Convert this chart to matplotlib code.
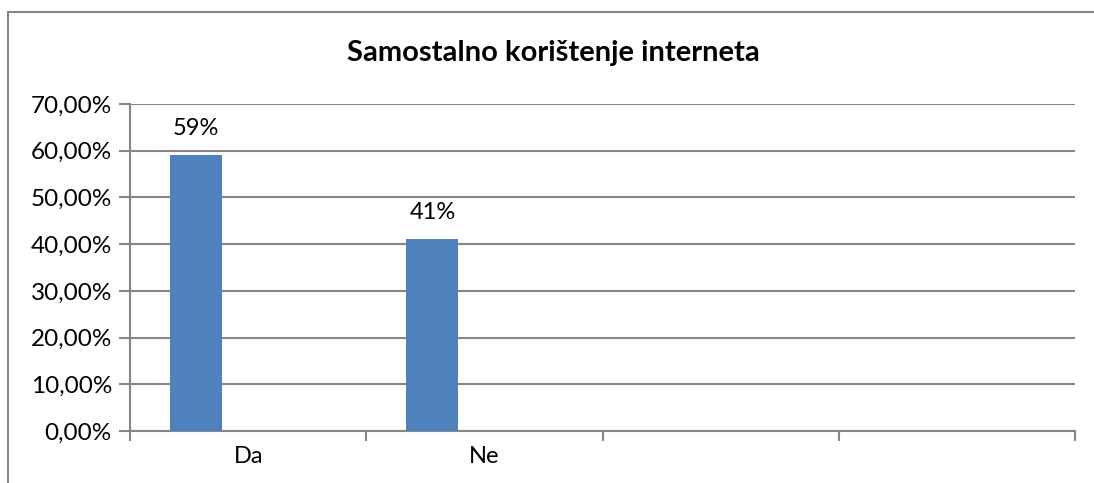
import matplotlib
matplotlib.use("Agg")
import matplotlib.pyplot as plt
import matplotlib.patches as patches
from matplotlib.ticker import FuncFormatter, FixedLocator

# data
categories = ["Da", "Ne", "", ""]
values = [0.59, 0.41]
value_labels = ["59%", "41%"]
title = "Samostalno korištenje interneta"

plt.rcParams['font.family'] = ['Lato', 'DejaVu Sans']

W, H = 1094, 483
fig = plt.figure(figsize=(W / 100, H / 100), dpi=100)
ax = fig.add_axes([130 / W, 1 - 431 / H, (1075 - 130) / W, (431 - 104) / H])

grey = "#868686"
blue = "#4F81BD"
bar_w = 0.22

x = list(range(len(values)))
# first of three series slots in each category, so the bar sits left of centre
ax.bar([i - bar_w for i in x], values, width=bar_w, color=blue, zorder=3)
for i, v, lab in zip(x, values, value_labels):
    ax.annotate(lab, (i - bar_w, v), xytext=(0, 12), textcoords="offset points",
                ha="center", va="bottom", fontsize=17, color="black")

ax.set_xlim(-0.5, len(categories) - 0.5)
ax.set_ylim(0, 0.70)
ax.set_yticks([i / 10 for i in range(8)])
ax.yaxis.set_major_formatter(FuncFormatter(lambda v, p: f"{v * 100:.2f}%".replace(".", ",")))
ax.set_xticks(range(len(categories)))
ax.set_xticklabels(categories)
ax.xaxis.set_minor_locator(FixedLocator([i - 0.5 for i in range(len(categories) + 1)]))
ax.tick_params(axis="x", which="major", length=0, pad=11, labelsize=17)
ax.tick_params(axis="x", which="minor", length=7, width=1.5, color=grey)
ax.tick_params(axis="y", length=8, width=1.5, color=grey, pad=5, labelsize=17.5)

ax.grid(axis="y", color=grey, linewidth=1.5, zorder=0)
for s in ["top", "right"]:
    ax.spines[s].set_visible(False)
for s in ["left", "bottom"]:
    ax.spines[s].set_color(grey)
    ax.spines[s].set_linewidth(1.5)

fig.text(553 / W, 1 - 53 / H, title, ha="center", va="center", fontsize=21, fontweight="bold")

border = patches.Rectangle((8 / W, -0.1), 1.2, 1 - 12 / H + 0.1, transform=fig.transFigure,
                           fill=False, edgecolor=grey, linewidth=1.5)
fig.patches.append(border)

fig.savefig("out.png", dpi=100)
